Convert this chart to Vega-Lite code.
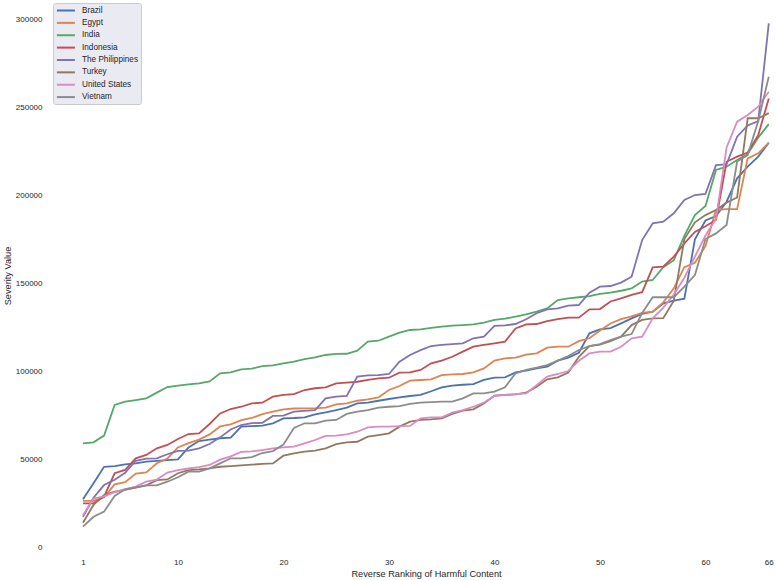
{
  "$schema": "https://vega.github.io/schema/vega-lite/v6.json",
  "width": 728,
  "height": 551,
  "autosize": {"type": "none"},
  "padding": {"left": 49, "top": 0, "right": 0, "bottom": 29},
  "background": "white",
  "config": {
    "view": {"stroke": null},
    "font": "Liberation Sans",
    "axis": {"grid": false, "domain": false, "ticks": false, "labelColor": "#262626", "titleColor": "#262626", "labelFontSize": 8, "titleFontSize": 9.2, "titleFontWeight": "normal", "labelFont": "Liberation Sans", "titleFont": "Liberation Sans"}
  },
  "data": {
    "values": [
      {"country":"Brazil","rank":1,"value":27100},{"country":"Brazil","rank":2,"value":36200},{"country":"Brazil","rank":3,"value":45600},{"country":"Brazil","rank":4,"value":46000},{"country":"Brazil","rank":5,"value":46900},{"country":"Brazil","rank":6,"value":47500},{"country":"Brazil","rank":7,"value":48500},{"country":"Brazil","rank":8,"value":48900},{"country":"Brazil","rank":9,"value":49400},{"country":"Brazil","rank":10,"value":49800},{"country":"Brazil","rank":11,"value":56500},{"country":"Brazil","rank":12,"value":60200},{"country":"Brazil","rank":13,"value":61000},{"country":"Brazil","rank":14,"value":61800},{"country":"Brazil","rank":15,"value":62200},{"country":"Brazil","rank":16,"value":68400},{"country":"Brazil","rank":17,"value":68700},{"country":"Brazil","rank":18,"value":69000},{"country":"Brazil","rank":19,"value":70300},{"country":"Brazil","rank":20,"value":73100},{"country":"Brazil","rank":21,"value":73300},{"country":"Brazil","rank":22,"value":73700},{"country":"Brazil","rank":23,"value":75400},{"country":"Brazil","rank":24,"value":76500},{"country":"Brazil","rank":25,"value":77800},{"country":"Brazil","rank":26,"value":79200},{"country":"Brazil","rank":27,"value":81600},{"country":"Brazil","rank":28,"value":82000},{"country":"Brazil","rank":29,"value":83100},{"country":"Brazil","rank":30,"value":84100},{"country":"Brazil","rank":31,"value":85000},{"country":"Brazil","rank":32,"value":85800},{"country":"Brazil","rank":33,"value":86400},{"country":"Brazil","rank":34,"value":88500},{"country":"Brazil","rank":35,"value":90700},{"country":"Brazil","rank":36,"value":91700},{"country":"Brazil","rank":37,"value":92200},{"country":"Brazil","rank":38,"value":92600},{"country":"Brazil","rank":39,"value":94900},{"country":"Brazil","rank":40,"value":96200},{"country":"Brazil","rank":41,"value":96400},{"country":"Brazil","rank":42,"value":99200},{"country":"Brazil","rank":43,"value":100200},{"country":"Brazil","rank":44,"value":101500},{"country":"Brazil","rank":45,"value":102500},{"country":"Brazil","rank":46,"value":105900},{"country":"Brazil","rank":47,"value":107600},{"country":"Brazil","rank":48,"value":110400},{"country":"Brazil","rank":49,"value":121400},{"country":"Brazil","rank":50,"value":123700},{"country":"Brazil","rank":51,"value":124400},{"country":"Brazil","rank":52,"value":127100},{"country":"Brazil","rank":53,"value":129900},{"country":"Brazil","rank":54,"value":132400},{"country":"Brazil","rank":55,"value":133700},{"country":"Brazil","rank":56,"value":138400},{"country":"Brazil","rank":57,"value":140000},{"country":"Brazil","rank":58,"value":141100},{"country":"Brazil","rank":59,"value":174800},{"country":"Brazil","rank":60,"value":185500},{"country":"Brazil","rank":61,"value":188100},{"country":"Brazil","rank":62,"value":196200},{"country":"Brazil","rank":63,"value":209500},{"country":"Brazil","rank":64,"value":216100},{"country":"Brazil","rank":65,"value":221800},{"country":"Brazil","rank":66,"value":229700},
      {"country":"Egypt","rank":1,"value":26200},{"country":"Egypt","rank":2,"value":26200},{"country":"Egypt","rank":3,"value":28300},{"country":"Egypt","rank":4,"value":35600},{"country":"Egypt","rank":5,"value":36800},{"country":"Egypt","rank":6,"value":41700},{"country":"Egypt","rank":7,"value":42400},{"country":"Egypt","rank":8,"value":47600},{"country":"Egypt","rank":9,"value":50300},{"country":"Egypt","rank":10,"value":56600},{"country":"Egypt","rank":11,"value":59000},{"country":"Egypt","rank":12,"value":61000},{"country":"Egypt","rank":13,"value":64000},{"country":"Egypt","rank":14,"value":68500},{"country":"Egypt","rank":15,"value":69700},{"country":"Egypt","rank":16,"value":72100},{"country":"Egypt","rank":17,"value":73300},{"country":"Egypt","rank":18,"value":75500},{"country":"Egypt","rank":19,"value":76900},{"country":"Egypt","rank":20,"value":78200},{"country":"Egypt","rank":21,"value":78700},{"country":"Egypt","rank":22,"value":78800},{"country":"Egypt","rank":23,"value":78800},{"country":"Egypt","rank":24,"value":79200},{"country":"Egypt","rank":25,"value":81100},{"country":"Egypt","rank":26,"value":81600},{"country":"Egypt","rank":27,"value":83100},{"country":"Egypt","rank":28,"value":83900},{"country":"Egypt","rank":29,"value":85000},{"country":"Egypt","rank":30,"value":89200},{"country":"Egypt","rank":31,"value":91500},{"country":"Egypt","rank":32,"value":94500},{"country":"Egypt","rank":33,"value":94900},{"country":"Egypt","rank":34,"value":95300},{"country":"Egypt","rank":35,"value":97700},{"country":"Egypt","rank":36,"value":98100},{"country":"Egypt","rank":37,"value":98300},{"country":"Egypt","rank":38,"value":99200},{"country":"Egypt","rank":39,"value":101500},{"country":"Egypt","rank":40,"value":105900},{"country":"Egypt","rank":41,"value":107200},{"country":"Egypt","rank":42,"value":107600},{"country":"Egypt","rank":43,"value":109300},{"country":"Egypt","rank":44,"value":110000},{"country":"Egypt","rank":45,"value":113300},{"country":"Egypt","rank":46,"value":113800},{"country":"Egypt","rank":47,"value":113800},{"country":"Egypt","rank":48,"value":117000},{"country":"Egypt","rank":49,"value":118600},{"country":"Egypt","rank":50,"value":123000},{"country":"Egypt","rank":51,"value":127000},{"country":"Egypt","rank":52,"value":129500},{"country":"Egypt","rank":53,"value":131000},{"country":"Egypt","rank":54,"value":133000},{"country":"Egypt","rank":55,"value":133700},{"country":"Egypt","rank":56,"value":139000},{"country":"Egypt","rank":57,"value":147000},{"country":"Egypt","rank":58,"value":159000},{"country":"Egypt","rank":59,"value":161500},{"country":"Egypt","rank":60,"value":171000},{"country":"Egypt","rank":61,"value":191500},{"country":"Egypt","rank":62,"value":192000},{"country":"Egypt","rank":63,"value":192000},{"country":"Egypt","rank":64,"value":220800},{"country":"Egypt","rank":65,"value":223700},{"country":"Egypt","rank":66,"value":229800},
      {"country":"India","rank":1,"value":58900},{"country":"India","rank":2,"value":59500},{"country":"India","rank":3,"value":63300},{"country":"India","rank":4,"value":80700},{"country":"India","rank":5,"value":82600},{"country":"India","rank":6,"value":83500},{"country":"India","rank":7,"value":84500},{"country":"India","rank":8,"value":87700},{"country":"India","rank":9,"value":90900},{"country":"India","rank":10,"value":91700},{"country":"India","rank":11,"value":92400},{"country":"India","rank":12,"value":93000},{"country":"India","rank":13,"value":94100},{"country":"India","rank":14,"value":98700},{"country":"India","rank":15,"value":99200},{"country":"India","rank":16,"value":100900},{"country":"India","rank":17,"value":101300},{"country":"India","rank":18,"value":102800},{"country":"India","rank":19,"value":103200},{"country":"India","rank":20,"value":104400},{"country":"India","rank":21,"value":105300},{"country":"India","rank":22,"value":106800},{"country":"India","rank":23,"value":107800},{"country":"India","rank":24,"value":109100},{"country":"India","rank":25,"value":109700},{"country":"India","rank":26,"value":109800},{"country":"India","rank":27,"value":111600},{"country":"India","rank":28,"value":116700},{"country":"India","rank":29,"value":117200},{"country":"India","rank":30,"value":119500},{"country":"India","rank":31,"value":121800},{"country":"India","rank":32,"value":123300},{"country":"India","rank":33,"value":123700},{"country":"India","rank":34,"value":124500},{"country":"India","rank":35,"value":125200},{"country":"India","rank":36,"value":125800},{"country":"India","rank":37,"value":126100},{"country":"India","rank":38,"value":126500},{"country":"India","rank":39,"value":127500},{"country":"India","rank":40,"value":129000},{"country":"India","rank":41,"value":129700},{"country":"India","rank":42,"value":130900},{"country":"India","rank":43,"value":132200},{"country":"India","rank":44,"value":133700},{"country":"India","rank":45,"value":135600},{"country":"India","rank":46,"value":140300},{"country":"India","rank":47,"value":141300},{"country":"India","rank":48,"value":141900},{"country":"India","rank":49,"value":142600},{"country":"India","rank":50,"value":143800},{"country":"India","rank":51,"value":144500},{"country":"India","rank":52,"value":145600},{"country":"India","rank":53,"value":147000},{"country":"India","rank":54,"value":150800},{"country":"India","rank":55,"value":151700},{"country":"India","rank":56,"value":159000},{"country":"India","rank":57,"value":163000},{"country":"India","rank":58,"value":176800},{"country":"India","rank":59,"value":188600},{"country":"India","rank":60,"value":193800},{"country":"India","rank":61,"value":214200},{"country":"India","rank":62,"value":216100},{"country":"India","rank":63,"value":219900},{"country":"India","rank":64,"value":223200},{"country":"India","rank":65,"value":232600},{"country":"India","rank":66,"value":240300},
      {"country":"Indonesia","rank":1,"value":24800},{"country":"Indonesia","rank":2,"value":24800},{"country":"Indonesia","rank":3,"value":28600},{"country":"Indonesia","rank":4,"value":41900},{"country":"Indonesia","rank":5,"value":43800},{"country":"Indonesia","rank":6,"value":50400},{"country":"Indonesia","rank":7,"value":52300},{"country":"Indonesia","rank":8,"value":56100},{"country":"Indonesia","rank":9,"value":58000},{"country":"Indonesia","rank":10,"value":61400},{"country":"Indonesia","rank":11,"value":64200},{"country":"Indonesia","rank":12,"value":64600},{"country":"Indonesia","rank":13,"value":69900},{"country":"Indonesia","rank":14,"value":75900},{"country":"Indonesia","rank":15,"value":78400},{"country":"Indonesia","rank":16,"value":79700},{"country":"Indonesia","rank":17,"value":81600},{"country":"Indonesia","rank":18,"value":82000},{"country":"Indonesia","rank":19,"value":85400},{"country":"Indonesia","rank":20,"value":86400},{"country":"Indonesia","rank":21,"value":86900},{"country":"Indonesia","rank":22,"value":89200},{"country":"Indonesia","rank":23,"value":90200},{"country":"Indonesia","rank":24,"value":90700},{"country":"Indonesia","rank":25,"value":93000},{"country":"Indonesia","rank":26,"value":93400},{"country":"Indonesia","rank":27,"value":93900},{"country":"Indonesia","rank":28,"value":94900},{"country":"Indonesia","rank":29,"value":95800},{"country":"Indonesia","rank":30,"value":96200},{"country":"Indonesia","rank":31,"value":99100},{"country":"Indonesia","rank":32,"value":99200},{"country":"Indonesia","rank":33,"value":100600},{"country":"Indonesia","rank":34,"value":104400},{"country":"Indonesia","rank":35,"value":105900},{"country":"Indonesia","rank":36,"value":108100},{"country":"Indonesia","rank":37,"value":111000},{"country":"Indonesia","rank":38,"value":113800},{"country":"Indonesia","rank":39,"value":114800},{"country":"Indonesia","rank":40,"value":115700},{"country":"Indonesia","rank":41,"value":116700},{"country":"Indonesia","rank":42,"value":124200},{"country":"Indonesia","rank":43,"value":126500},{"country":"Indonesia","rank":44,"value":126700},{"country":"Indonesia","rank":45,"value":128400},{"country":"Indonesia","rank":46,"value":129500},{"country":"Indonesia","rank":47,"value":130300},{"country":"Indonesia","rank":48,"value":130300},{"country":"Indonesia","rank":49,"value":135000},{"country":"Indonesia","rank":50,"value":135200},{"country":"Indonesia","rank":51,"value":139500},{"country":"Indonesia","rank":52,"value":141300},{"country":"Indonesia","rank":53,"value":143200},{"country":"Indonesia","rank":54,"value":144800},{"country":"Indonesia","rank":55,"value":158900},{"country":"Indonesia","rank":56,"value":159300},{"country":"Indonesia","rank":57,"value":165000},{"country":"Indonesia","rank":58,"value":172500},{"country":"Indonesia","rank":59,"value":179000},{"country":"Indonesia","rank":60,"value":182200},{"country":"Indonesia","rank":61,"value":185800},{"country":"Indonesia","rank":62,"value":218900},{"country":"Indonesia","rank":63,"value":221800},{"country":"Indonesia","rank":64,"value":224100},{"country":"Indonesia","rank":65,"value":234000},{"country":"Indonesia","rank":66,"value":254900},
      {"country":"The Philippines","rank":1,"value":17200},{"country":"The Philippines","rank":2,"value":28000},{"country":"The Philippines","rank":3,"value":35200},{"country":"The Philippines","rank":4,"value":38200},{"country":"The Philippines","rank":5,"value":42200},{"country":"The Philippines","rank":6,"value":49000},{"country":"The Philippines","rank":7,"value":50200},{"country":"The Philippines","rank":8,"value":50400},{"country":"The Philippines","rank":9,"value":52700},{"country":"The Philippines","rank":10,"value":54600},{"country":"The Philippines","rank":11,"value":54800},{"country":"The Philippines","rank":12,"value":56100},{"country":"The Philippines","rank":13,"value":58500},{"country":"The Philippines","rank":14,"value":62300},{"country":"The Philippines","rank":15,"value":66800},{"country":"The Philippines","rank":16,"value":69300},{"country":"The Philippines","rank":17,"value":70400},{"country":"The Philippines","rank":18,"value":70600},{"country":"The Philippines","rank":19,"value":74500},{"country":"The Philippines","rank":20,"value":74600},{"country":"The Philippines","rank":21,"value":76900},{"country":"The Philippines","rank":22,"value":77300},{"country":"The Philippines","rank":23,"value":77800},{"country":"The Philippines","rank":24,"value":84500},{"country":"The Philippines","rank":25,"value":85400},{"country":"The Philippines","rank":26,"value":85800},{"country":"The Philippines","rank":27,"value":96800},{"country":"The Philippines","rank":28,"value":97500},{"country":"The Philippines","rank":29,"value":97700},{"country":"The Philippines","rank":30,"value":98300},{"country":"The Philippines","rank":31,"value":105300},{"country":"The Philippines","rank":32,"value":109100},{"country":"The Philippines","rank":33,"value":111900},{"country":"The Philippines","rank":34,"value":114200},{"country":"The Philippines","rank":35,"value":114800},{"country":"The Philippines","rank":36,"value":115300},{"country":"The Philippines","rank":37,"value":115700},{"country":"The Philippines","rank":38,"value":118600},{"country":"The Philippines","rank":39,"value":119500},{"country":"The Philippines","rank":40,"value":125600},{"country":"The Philippines","rank":41,"value":125900},{"country":"The Philippines","rank":42,"value":126700},{"country":"The Philippines","rank":43,"value":129400},{"country":"The Philippines","rank":44,"value":132800},{"country":"The Philippines","rank":45,"value":135000},{"country":"The Philippines","rank":46,"value":135600},{"country":"The Philippines","rank":47,"value":137100},{"country":"The Philippines","rank":48,"value":137500},{"country":"The Philippines","rank":49,"value":144500},{"country":"The Philippines","rank":50,"value":147900},{"country":"The Philippines","rank":51,"value":148300},{"country":"The Philippines","rank":52,"value":150200},{"country":"The Philippines","rank":53,"value":153600},{"country":"The Philippines","rank":54,"value":174400},{"country":"The Philippines","rank":55,"value":183900},{"country":"The Philippines","rank":56,"value":184800},{"country":"The Philippines","rank":57,"value":189600},{"country":"The Philippines","rank":58,"value":197200},{"country":"The Philippines","rank":59,"value":200000},{"country":"The Philippines","rank":60,"value":200600},{"country":"The Philippines","rank":61,"value":217000},{"country":"The Philippines","rank":62,"value":217400},{"country":"The Philippines","rank":63,"value":233100},{"country":"The Philippines","rank":64,"value":239500},{"country":"The Philippines","rank":65,"value":242000},{"country":"The Philippines","rank":66,"value":297500},
      {"country":"Turkey","rank":1,"value":13800},{"country":"Turkey","rank":2,"value":23900},{"country":"Turkey","rank":3,"value":29500},{"country":"Turkey","rank":4,"value":31400},{"country":"Turkey","rank":5,"value":32400},{"country":"Turkey","rank":6,"value":33700},{"country":"Turkey","rank":7,"value":35000},{"country":"Turkey","rank":8,"value":38000},{"country":"Turkey","rank":9,"value":38400},{"country":"Turkey","rank":10,"value":41900},{"country":"Turkey","rank":11,"value":43700},{"country":"Turkey","rank":12,"value":44100},{"country":"Turkey","rank":13,"value":44700},{"country":"Turkey","rank":14,"value":45600},{"country":"Turkey","rank":15,"value":46000},{"country":"Turkey","rank":16,"value":46400},{"country":"Turkey","rank":17,"value":46800},{"country":"Turkey","rank":18,"value":47200},{"country":"Turkey","rank":19,"value":47500},{"country":"Turkey","rank":20,"value":51900},{"country":"Turkey","rank":21,"value":53200},{"country":"Turkey","rank":22,"value":54200},{"country":"Turkey","rank":23,"value":54700},{"country":"Turkey","rank":24,"value":56100},{"country":"Turkey","rank":25,"value":58500},{"country":"Turkey","rank":26,"value":59500},{"country":"Turkey","rank":27,"value":59800},{"country":"Turkey","rank":28,"value":62700},{"country":"Turkey","rank":29,"value":63600},{"country":"Turkey","rank":30,"value":64600},{"country":"Turkey","rank":31,"value":68400},{"country":"Turkey","rank":32,"value":71200},{"country":"Turkey","rank":33,"value":72200},{"country":"Turkey","rank":34,"value":72500},{"country":"Turkey","rank":35,"value":73100},{"country":"Turkey","rank":36,"value":75600},{"country":"Turkey","rank":37,"value":77500},{"country":"Turkey","rank":38,"value":78200},{"country":"Turkey","rank":39,"value":81600},{"country":"Turkey","rank":40,"value":86000},{"country":"Turkey","rank":41,"value":86400},{"country":"Turkey","rank":42,"value":86700},{"country":"Turkey","rank":43,"value":87700},{"country":"Turkey","rank":44,"value":91100},{"country":"Turkey","rank":45,"value":95300},{"country":"Turkey","rank":46,"value":96400},{"country":"Turkey","rank":47,"value":99100},{"country":"Turkey","rank":48,"value":108100},{"country":"Turkey","rank":49,"value":114200},{"country":"Turkey","rank":50,"value":115000},{"country":"Turkey","rank":51,"value":117000},{"country":"Turkey","rank":52,"value":119500},{"country":"Turkey","rank":53,"value":126100},{"country":"Turkey","rank":54,"value":129000},{"country":"Turkey","rank":55,"value":129900},{"country":"Turkey","rank":56,"value":130000},{"country":"Turkey","rank":57,"value":140000},{"country":"Turkey","rank":58,"value":175000},{"country":"Turkey","rank":59,"value":184500},{"country":"Turkey","rank":60,"value":188600},{"country":"Turkey","rank":61,"value":191500},{"country":"Turkey","rank":62,"value":195700},{"country":"Turkey","rank":63,"value":198600},{"country":"Turkey","rank":64,"value":243600},{"country":"Turkey","rank":65,"value":243600},{"country":"Turkey","rank":66,"value":246500},
      {"country":"United States","rank":1,"value":18000},{"country":"United States","rank":2,"value":27500},{"country":"United States","rank":3,"value":28800},{"country":"United States","rank":4,"value":31200},{"country":"United States","rank":5,"value":32900},{"country":"United States","rank":6,"value":34300},{"country":"United States","rank":7,"value":37100},{"country":"United States","rank":8,"value":38300},{"country":"United States","rank":9,"value":42300},{"country":"United States","rank":10,"value":43700},{"country":"United States","rank":11,"value":44600},{"country":"United States","rank":12,"value":45400},{"country":"United States","rank":13,"value":46600},{"country":"United States","rank":14,"value":49600},{"country":"United States","rank":15,"value":51500},{"country":"United States","rank":16,"value":54000},{"country":"United States","rank":17,"value":54300},{"country":"United States","rank":18,"value":55100},{"country":"United States","rank":19,"value":56000},{"country":"United States","rank":20,"value":56600},{"country":"United States","rank":21,"value":57000},{"country":"United States","rank":22,"value":58900},{"country":"United States","rank":23,"value":60800},{"country":"United States","rank":24,"value":63100},{"country":"United States","rank":25,"value":63300},{"country":"United States","rank":26,"value":64000},{"country":"United States","rank":27,"value":65500},{"country":"United States","rank":28,"value":68000},{"country":"United States","rank":29,"value":68400},{"country":"United States","rank":30,"value":68400},{"country":"United States","rank":31,"value":68700},{"country":"United States","rank":32,"value":68800},{"country":"United States","rank":33,"value":73100},{"country":"United States","rank":34,"value":73600},{"country":"United States","rank":35,"value":73700},{"country":"United States","rank":36,"value":76300},{"country":"United States","rank":37,"value":77800},{"country":"United States","rank":38,"value":79700},{"country":"United States","rank":39,"value":82000},{"country":"United States","rank":40,"value":85800},{"country":"United States","rank":41,"value":86400},{"country":"United States","rank":42,"value":86900},{"country":"United States","rank":43,"value":87300},{"country":"United States","rank":44,"value":92000},{"country":"United States","rank":45,"value":96800},{"country":"United States","rank":46,"value":98300},{"country":"United States","rank":47,"value":100000},{"country":"United States","rank":48,"value":105800},{"country":"United States","rank":49,"value":110000},{"country":"United States","rank":50,"value":111000},{"country":"United States","rank":51,"value":111000},{"country":"United States","rank":52,"value":113800},{"country":"United States","rank":53,"value":118600},{"country":"United States","rank":54,"value":119500},{"country":"United States","rank":55,"value":129900},{"country":"United States","rank":56,"value":136000},{"country":"United States","rank":57,"value":143500},{"country":"United States","rank":58,"value":153000},{"country":"United States","rank":59,"value":165000},{"country":"United States","rank":60,"value":177000},{"country":"United States","rank":61,"value":186500},{"country":"United States","rank":62,"value":227000},{"country":"United States","rank":63,"value":241700},{"country":"United States","rank":64,"value":245500},{"country":"United States","rank":65,"value":250200},{"country":"United States","rank":66,"value":258700},
      {"country":"Vietnam","rank":1,"value":11600},{"country":"Vietnam","rank":2,"value":17200},{"country":"Vietnam","rank":3,"value":20100},{"country":"Vietnam","rank":4,"value":29000},{"country":"Vietnam","rank":5,"value":32800},{"country":"Vietnam","rank":6,"value":33900},{"country":"Vietnam","rank":7,"value":35000},{"country":"Vietnam","rank":8,"value":35000},{"country":"Vietnam","rank":9,"value":37100},{"country":"Vietnam","rank":10,"value":39600},{"country":"Vietnam","rank":11,"value":42800},{"country":"Vietnam","rank":12,"value":42800},{"country":"Vietnam","rank":13,"value":44700},{"country":"Vietnam","rank":14,"value":47500},{"country":"Vietnam","rank":15,"value":50400},{"country":"Vietnam","rank":16,"value":50400},{"country":"Vietnam","rank":17,"value":51100},{"country":"Vietnam","rank":18,"value":53400},{"country":"Vietnam","rank":19,"value":54500},{"country":"Vietnam","rank":20,"value":58200},{"country":"Vietnam","rank":21,"value":67700},{"country":"Vietnam","rank":22,"value":70300},{"country":"Vietnam","rank":23,"value":70300},{"country":"Vietnam","rank":24,"value":71800},{"country":"Vietnam","rank":25,"value":72200},{"country":"Vietnam","rank":26,"value":75600},{"country":"Vietnam","rank":27,"value":76900},{"country":"Vietnam","rank":28,"value":77800},{"country":"Vietnam","rank":29,"value":79200},{"country":"Vietnam","rank":30,"value":79700},{"country":"Vietnam","rank":31,"value":80100},{"country":"Vietnam","rank":32,"value":81300},{"country":"Vietnam","rank":33,"value":82000},{"country":"Vietnam","rank":34,"value":82300},{"country":"Vietnam","rank":35,"value":82600},{"country":"Vietnam","rank":36,"value":82600},{"country":"Vietnam","rank":37,"value":84500},{"country":"Vietnam","rank":38,"value":87300},{"country":"Vietnam","rank":39,"value":87300},{"country":"Vietnam","rank":40,"value":88300},{"country":"Vietnam","rank":41,"value":90700},{"country":"Vietnam","rank":42,"value":98700},{"country":"Vietnam","rank":43,"value":100600},{"country":"Vietnam","rank":44,"value":101900},{"country":"Vietnam","rank":45,"value":103400},{"country":"Vietnam","rank":46,"value":105900},{"country":"Vietnam","rank":47,"value":108500},{"country":"Vietnam","rank":48,"value":111900},{"country":"Vietnam","rank":49,"value":114200},{"country":"Vietnam","rank":50,"value":115300},{"country":"Vietnam","rank":51,"value":117600},{"country":"Vietnam","rank":52,"value":119500},{"country":"Vietnam","rank":53,"value":121000},{"country":"Vietnam","rank":54,"value":133000},{"country":"Vietnam","rank":55,"value":141900},{"country":"Vietnam","rank":56,"value":141900},{"country":"Vietnam","rank":57,"value":141900},{"country":"Vietnam","rank":58,"value":147900},{"country":"Vietnam","rank":59,"value":154500},{"country":"Vietnam","rank":60,"value":175000},{"country":"Vietnam","rank":61,"value":178200},{"country":"Vietnam","rank":62,"value":183000},{"country":"Vietnam","rank":63,"value":219000},{"country":"Vietnam","rank":64,"value":222700},{"country":"Vietnam","rank":65,"value":242000},{"country":"Vietnam","rank":66,"value":267200}
    ]
  },
  "mark": {"type": "line", "strokeWidth": 1.8},
  "encoding": {
    "x": {
      "field": "rank",
      "type": "quantitative",
      "scale": {"domain": [-2.22, 66.78], "nice": false, "zero": false},
      "axis": {"values": [1, 10, 20, 30, 40, 50, 60, 66], "labelPadding": 7, "title": "Reverse Ranking of Harmful Content", "titleX": 377, "titleY": 22, "titleBaseline": "middle"}
    },
    "y": {
      "field": "value",
      "type": "quantitative",
      "scale": {"domain": [-2270, 310800], "nice": false, "zero": false},
      "axis": {"values": [0, 50000, 100000, 150000, 200000, 250000, 300000], "format": "d", "labelPadding": 7, "title": "Severity Value", "titleX": -42, "titleBaseline": "middle"}
    },
    "color": {
      "field": "country",
      "type": "nominal",
      "scale": {
        "domain": ["Brazil", "Egypt", "India", "Indonesia", "The Philippines", "Turkey", "United States", "Vietnam"],
        "range": ["#4C72B0", "#DD8452", "#55A868", "#C44E52", "#8172B3", "#937860", "#DA8BC3", "#8C8C8C"]
      },
      "legend": {
        "title": null,
        "orient": "none",
        "legendX": 4,
        "legendY": 3,
        "padding": 2.5,
        "fillColor": "#EAEAF2",
        "strokeColor": "#CCCCCC",
        "cornerRadius": 2,
        "symbolType": "M-0.9,0H3.6",
        "symbolSize": 64,
        "symbolStrokeWidth": 2,
        "labelFontSize": 8.2,
        "labelFont": "Liberation Sans",
        "labelColor": "#262626",
        "labelOffset": 16.5,
        "rowPadding": 3.37
      }
    }
  }
}
